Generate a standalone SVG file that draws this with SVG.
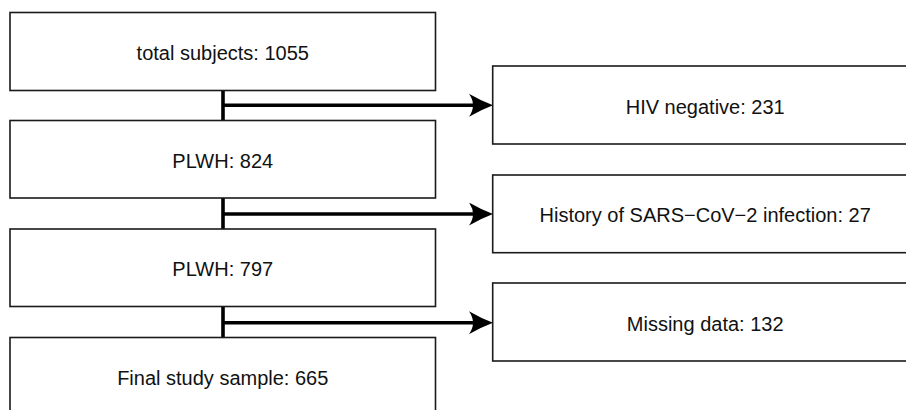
<svg xmlns="http://www.w3.org/2000/svg" width="906" height="410" viewBox="0 0 906 410">
  <defs>
    <style>
      .box { fill: #ffffff; stroke: #1a1a1a; stroke-width: 1.6; }
      .lbl { font-family: "Liberation Sans", Arial, sans-serif; font-size: 20px; fill: #111111; text-anchor: middle; }
      .conn { fill: none; stroke: #000000; stroke-width: 3.6; }
    </style>
    <marker id="arr" viewBox="0 0 24 23" refX="7" refY="11.5" markerWidth="24" markerHeight="23" markerUnits="userSpaceOnUse" orient="auto">
      <path d="M24,11.5 Q12,7 0,0 Q8,11.5 0,23 Q12,16 24,11.5 Z" fill="#000000"/>
    </marker>
  </defs>
  <rect width="906" height="410" fill="#ffffff"/>

  <g id="connectors">
    <line class="conn" x1="223" y1="90.5" x2="223" y2="120.5"/>
    <line class="conn" x1="223" y1="105.3" x2="476" y2="105.3" marker-end="url(#arr)"/>
    <line class="conn" x1="223" y1="198" x2="223" y2="229"/>
    <line class="conn" x1="223" y1="214" x2="476" y2="214" marker-end="url(#arr)"/>
    <line class="conn" x1="223" y1="306.5" x2="223" y2="337.5"/>
    <line class="conn" x1="223" y1="322.7" x2="476" y2="322.7" marker-end="url(#arr)"/>
  </g>

  <g id="total">
    <rect class="box" x="10" y="12.5" width="425.5" height="78"/>
    <text class="lbl" x="222.75" y="60">total subjects: 1055</text>
  </g>
  <g id="plwh824">
    <rect class="box" x="10" y="120.5" width="425.5" height="77.5"/>
    <text class="lbl" x="222.75" y="168">PLWH: 824</text>
  </g>
  <g id="plwh797">
    <rect class="box" x="10" y="229" width="425.5" height="77.5"/>
    <text class="lbl" x="222.75" y="276">PLWH: 797</text>
  </g>
  <g id="final">
    <rect class="box" x="10" y="337.5" width="425.5" height="78"/>
    <text class="lbl" x="222.75" y="385">Final study sample: 665</text>
  </g>

  <g id="hivneg">
    <rect class="box" x="492.7" y="66" width="425" height="78"/>
    <text class="lbl" x="705.2" y="113.5">HIV negative: 231</text>
  </g>
  <g id="sars">
    <rect class="box" x="492.7" y="175" width="425" height="77.7"/>
    <text class="lbl" x="705.2" y="222.3">History of SARS−CoV−2 infection: 27</text>
  </g>
  <g id="missing">
    <rect class="box" x="492.7" y="283" width="425" height="78"/>
    <text class="lbl" x="705.2" y="330.5">Missing data: 132</text>
  </g>
</svg>
